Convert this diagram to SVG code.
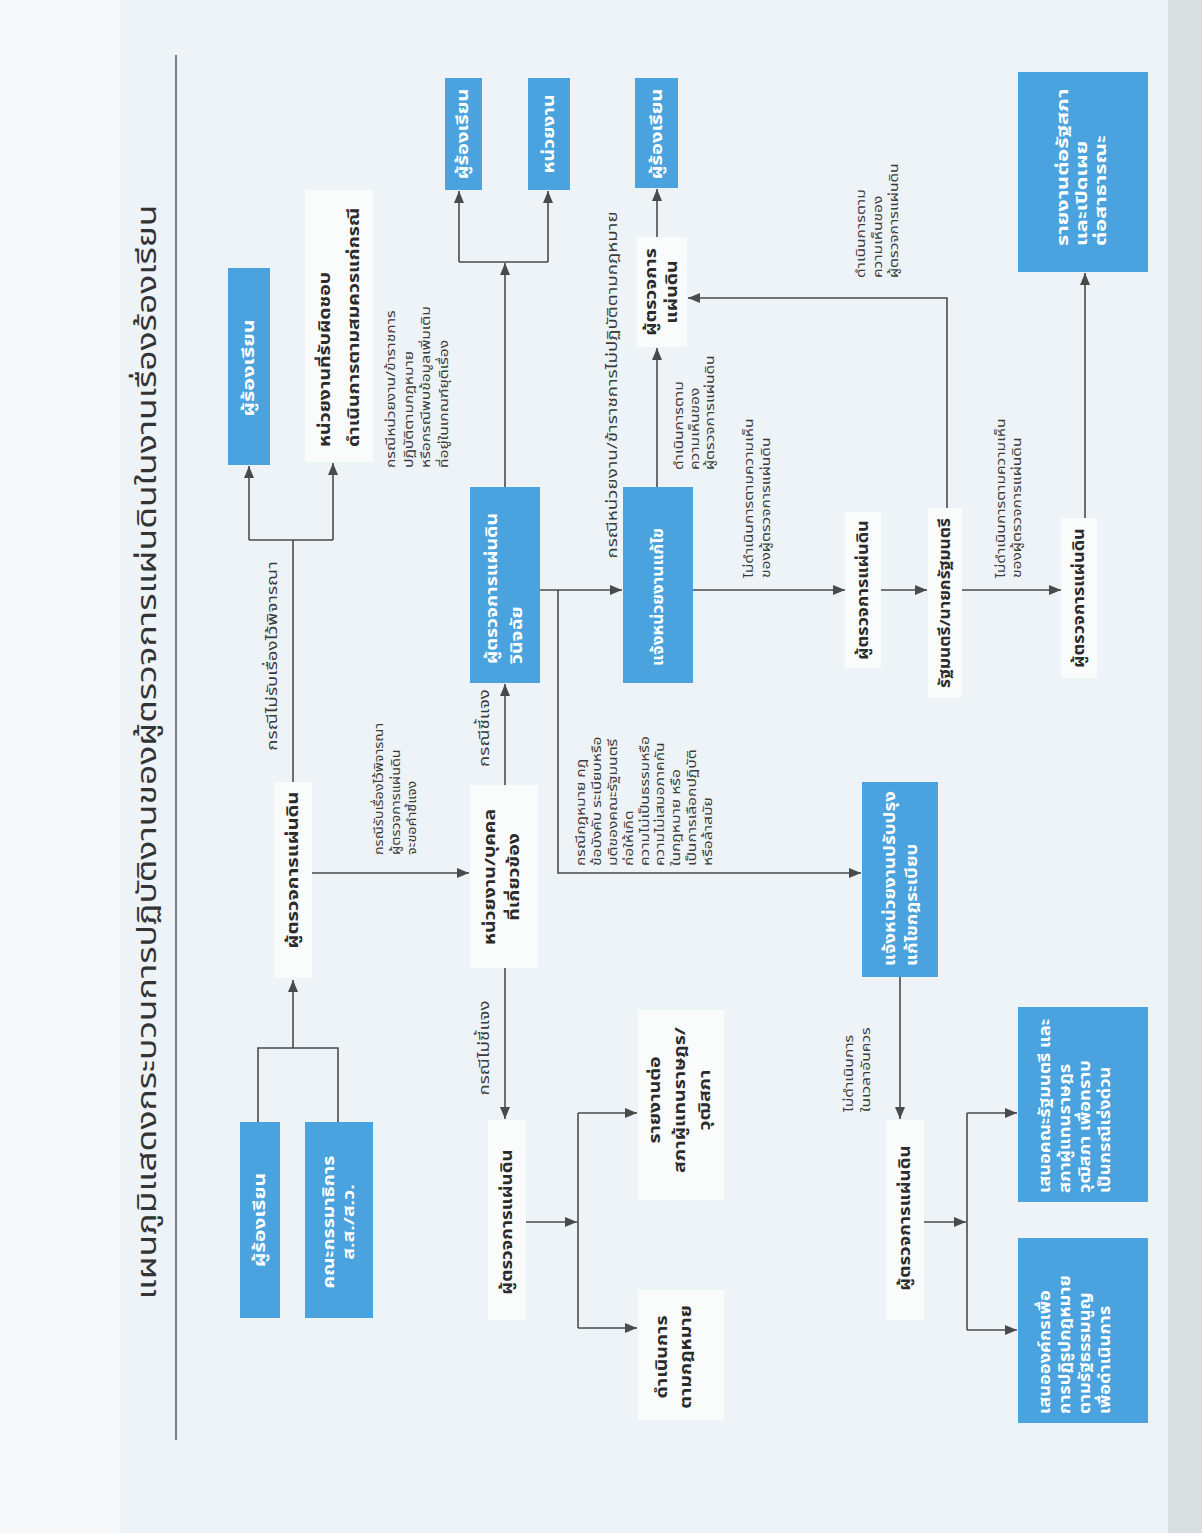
<svg xmlns="http://www.w3.org/2000/svg" width="1202" height="1533" viewBox="0 0 1202 1533">
<defs>
<style>
.bg{fill:#edf3f6}
.box{fill:#4aa3de}
.wbox{fill:#fafcfc}
.bt{font-family:'Noto Sans Thai','Noto Sans','DejaVu Sans',sans-serif;font-size:15px;font-weight:bold;fill:#ffffff;text-anchor:middle}
.nt{font-family:'Noto Sans Thai','Noto Sans','DejaVu Sans',sans-serif;font-size:15px;font-weight:bold;fill:#2b2b2b;text-anchor:middle}
.st{text-anchor:start}
.lt{font-family:'Noto Sans Thai','Noto Sans','DejaVu Sans',sans-serif;font-size:15px;fill:#3a3a3a;text-anchor:middle}
.ml{font-family:'Noto Sans Thai','Noto Sans','DejaVu Sans',sans-serif;font-size:12.5px;fill:#3a3a3a;text-anchor:start}
.title{font-family:'Noto Sans Thai','Noto Sans','DejaVu Sans',sans-serif;font-size:27px;fill:#333333;text-anchor:middle}
.c{stroke:#4a4a4a;stroke-width:1.6;fill:none}
.a{stroke:#4a4a4a;stroke-width:1.6;fill:none;marker-end:url(#ah)}
</style>
<marker id="ah" markerUnits="userSpaceOnUse" markerWidth="12" markerHeight="10" refX="12" refY="5" orient="auto">
<path d="M0,0 L12,5 L0,10 Z" fill="#4a4a4a"/>
</marker>
</defs>
<rect class="bg" x="0" y="0" width="1202" height="1533"/>
<rect x="0" y="0" width="120" height="1533" fill="#f6f8f9"/>
<rect x="1168" y="0" width="34" height="1533" fill="#d9dee0"/>

<g id="title">
<text class="title" transform="translate(156,752) rotate(-90)" textLength="1095" lengthAdjust="spacingAndGlyphs">แผนภูมิแสดงกระบวนการปฏิบัติงานของผู้ตรวจการแผ่นดินในงานเรื่องร้องเรียน</text>
<line x1="176" y1="55" x2="176" y2="1440" stroke="#555" stroke-width="1.5"/>
</g>

<g id="connectors">
<path class="c" d="M258,1122 V1048 H338 V1122"/>
<path class="a" d="M293,1048 V980"/>
<path class="c" d="M293,782 V540"/>
<path class="c" d="M249,540 H333"/>
<path class="a" d="M249,540 V466"/>
<path class="a" d="M333,540 V463"/>
<path class="a" d="M312,873 H469"/>
<path class="a" d="M505,785 V684"/>
<path class="a" d="M505,968 V1119"/>
<path class="a" d="M526,1222 H577"/>
<path class="c" d="M578,1113 V1328"/>
<path class="a" d="M578,1113 H637"/>
<path class="a" d="M578,1328 H637"/>
<path class="a" d="M505,487 V263"/>
<path class="c" d="M459,262 H548"/>
<path class="a" d="M459,262 V191"/>
<path class="a" d="M548,262 V191"/>
<path class="a" d="M540,590 H622"/>
<path class="a" d="M558,590 V873 H861"/>
<path class="a" d="M657,487 V348"/>
<path class="a" d="M657,237 V189"/>
<path class="a" d="M693,590 H845"/>
<path class="a" d="M880,590 H927"/>
<path class="a" d="M962,590 H1061"/>
<path class="a" d="M947,508 V298 H688"/>
<path class="a" d="M1085,518 V273"/>
<path class="a" d="M900,977 V1119"/>
<path class="a" d="M924,1222 H966"/>
<path class="c" d="M967,1113 V1330"/>
<path class="a" d="M967,1113 H1017"/>
<path class="a" d="M967,1330 H1017"/>
</g>

<g id="labels">
<text class="lt" transform="translate(272,656) rotate(-90) scale(1.25,1)"><tspan x="0" y="5">กรณีไม่รับเรื่องไว้พิจารณา</tspan></text>
<text class="lt" transform="translate(484,728) rotate(-90) scale(1.25,1)"><tspan x="0" y="5">กรณีชี้แจง</tspan></text>
<text class="lt" transform="translate(484,1048) rotate(-90) scale(1.25,1)"><tspan x="0" y="5">กรณีไม่ชี้แจง</tspan></text>
<text class="lt" transform="translate(612,385) rotate(-90) scale(1.25,1)"><tspan x="0" y="5">กรณีหน่วยงาน/ข้าราชการไม่ปฏิบัติตามกฎหมาย</tspan></text>
<text class="ml" transform="translate(395,855) rotate(-90) scale(1.15,1)"><tspan x="0" y="-12.5">กรณีรับเรื่องไว้พิจารณา</tspan><tspan x="0" y="4.5">ผู้ตรวจการแผ่นดิน</tspan><tspan x="0" y="21.5">จะขอคำชี้แจง</tspan></text>
<text class="ml" transform="translate(417,468) rotate(-90) scale(1.25,1)"><tspan x="0" y="-22.5">กรณีหน่วยงาน/ข้าราชการ</tspan><tspan x="0" y="-4.5">ปฏิบัติตามกฎหมาย</tspan><tspan x="0" y="13.5">หรือกรณีพบข้อมูลเพิ่มเติม</tspan><tspan x="0" y="31.5">ที่อยู่ในเกณฑ์ยุติเรื่อง</tspan></text>
<text class="ml" transform="translate(644,866) rotate(-90) scale(1.25,1)"><tspan x="0" y="-59.5">กรณีกฎหมาย กฎ</tspan><tspan x="0" y="-43.5">ข้อบังคับ ระเบียบหรือ</tspan><tspan x="0" y="-27.5">มติของคณะรัฐมนตรี</tspan><tspan x="0" y="-11.5">ก่อให้เกิด</tspan><tspan x="0" y="4.5">ความไม่เป็นธรรมหรือ</tspan><tspan x="0" y="20.5">ความไม่เสมอภาคกัน</tspan><tspan x="0" y="36.5">ในกฎหมาย หรือ</tspan><tspan x="0" y="52.5">เป็นการเลือกปฏิบัติ</tspan><tspan x="0" y="68.5">หรือล้าสมัย</tspan></text>
<text class="ml" transform="translate(694,470) rotate(-90) scale(1.25,1)"><tspan x="0" y="-11.5">ดำเนินการตาม</tspan><tspan x="0" y="4.5">ความเห็นของ</tspan><tspan x="0" y="20.5">ผู้ตรวจการแผ่นดิน</tspan></text>
<text class="ml" transform="translate(757,578) rotate(-90) scale(1.25,1)"><tspan x="0" y="-4">ไม่ดำเนินการตามความเห็น</tspan><tspan x="0" y="13">ของผู้ตรวจการแผ่นดิน</tspan></text>
<text class="ml" transform="translate(877,278) rotate(-90) scale(1.25,1)"><tspan x="0" y="-12.5">ดำเนินการตาม</tspan><tspan x="0" y="4.5">ความเห็นของ</tspan><tspan x="0" y="21.5">ผู้ตรวจการแผ่นดิน</tspan></text>
<text class="ml" transform="translate(1008,578) rotate(-90) scale(1.25,1)"><tspan x="0" y="-3.5">ไม่ดำเนินการตามความเห็น</tspan><tspan x="0" y="13.5">ของผู้ตรวจการแผ่นดิน</tspan></text>
<text class="ml" transform="translate(857,1112) rotate(-90) scale(1.25,1)"><tspan x="0" y="-4.5">ไม่ดำเนินการ</tspan><tspan x="0" y="13.5">ในเวลาอันควร</tspan></text>
</g>

<g id="n-complainant1"><rect class="box" x="240" y="1122" width="40" height="196"/><text class="bt" transform="translate(260,1220) rotate(-90) scale(1.4,1)"><tspan x="0" y="5">ผู้ร้องเรียน</tspan></text></g>
<g id="n-committee"><rect class="box" x="305" y="1122" width="68" height="196"/><text class="bt" transform="translate(338,1222) rotate(-90) scale(1.3,1)"><tspan x="0" y="-4.5">คณะกรรมาธิการ</tspan><tspan x="0" y="15.5">ส.ส./ส.ว.</tspan></text></g>
<g id="n-ombudsman1"><rect class="wbox" x="274" y="782" width="38" height="196"/><text class="nt" transform="translate(293,870) rotate(-90) scale(1.35,1)"><tspan x="0" y="5">ผู้ตรวจการแผ่นดิน</tspan></text></g>
<g id="n-complainant2"><rect class="box" x="228" y="268" width="42" height="197"/><text class="bt" transform="translate(249,368) rotate(-90) scale(1.45,1)"><tspan x="0" y="5">ผู้ร้องเรียน</tspan></text></g>
<g id="n-responsible"><rect class="wbox" x="305" y="190" width="68" height="272"/><text class="nt st" transform="translate(339,447) rotate(-90) scale(1.3,1)"><tspan x="0" y="-9">หน่วยงานที่รับผิดชอบ</tspan><tspan x="0" y="20">ดำเนินการตามสมควรแก่กรณี</tspan></text></g>
<g id="n-agency-person"><rect class="wbox" x="470" y="785" width="68" height="183"/><text class="nt" transform="translate(502,877) rotate(-90) scale(1.3,1)"><tspan x="0" y="-7.5">หน่วยงาน/บุคคล</tspan><tspan x="0" y="17.5">ที่เกี่ยวข้อง</tspan></text></g>
<g id="n-decide"><rect class="box" x="470" y="487" width="70" height="196"/><text class="bt st" transform="translate(505,664) rotate(-90) scale(1.3,1)"><tspan x="0" y="-8">ผู้ตรวจการแผ่นดิน</tspan><tspan x="0" y="17">วินิจฉัย</tspan></text></g>
<g id="n-ombudsman2"><rect class="wbox" x="488" y="1120" width="38" height="200"/><text class="nt" transform="translate(507,1222) rotate(-90) scale(1.25,1)"><tspan x="0" y="5">ผู้ตรวจการแผ่นดิน</tspan></text></g>
<g id="n-report-parliament"><rect class="wbox" x="638" y="1010" width="86" height="190"/><text class="nt" transform="translate(680,1100) rotate(-90) scale(1.3,1)"><tspan x="0" y="-20">รายงานต่อ</tspan><tspan x="0" y="5">สภาผู้แทนราษฎร/</tspan><tspan x="0" y="30">วุฒิสภา</tspan></text></g>
<g id="n-legal"><rect class="wbox" x="638" y="1290" width="86" height="130"/><text class="nt" transform="translate(674,1357) rotate(-90) scale(1.3,1)"><tspan x="0" y="-7">ดำเนินการ</tspan><tspan x="0" y="17">ตามกฎหมาย</tspan></text></g>
<g id="n-complainant3"><rect class="box" x="445" y="78" width="37" height="112"/><text class="bt" transform="translate(463,134) rotate(-90) scale(1.35,1)"><tspan x="0" y="5">ผู้ร้องเรียน</tspan></text></g>
<g id="n-agency"><rect class="box" x="528" y="78" width="42" height="112"/><text class="bt" transform="translate(549,134) rotate(-90) scale(1.3,1)"><tspan x="0" y="5">หน่วยงาน</tspan></text></g>
<g id="n-notify-fix"><rect class="box" x="623" y="487" width="70" height="196"/><text class="bt" transform="translate(658,597) rotate(-90) scale(1.15,1)"><tspan x="0" y="5">แจ้งหน่วยงานแก้ไข</tspan></text></g>
<g id="n-ombudsman3"><rect class="wbox" x="637" y="237" width="50" height="110"/><text class="nt" transform="translate(662,292) rotate(-90) scale(1.3,1)"><tspan x="0" y="-6">ผู้ตรวจการ</tspan><tspan x="0" y="15">แผ่นดิน</tspan></text></g>
<g id="n-complainant4"><rect class="box" x="635" y="78" width="43" height="110"/><text class="bt" transform="translate(657,134) rotate(-90) scale(1.35,1)"><tspan x="0" y="5">ผู้ร้องเรียน</tspan></text></g>
<g id="n-notify-rules"><rect class="box" x="862" y="782" width="76" height="195"/><text class="bt st" transform="translate(900,966) rotate(-90) scale(1.25,1)"><tspan x="0" y="-5">แจ้งหน่วยงานปรับปรุง</tspan><tspan x="0" y="17">แก้ไขกฎระเบียบ</tspan></text></g>
<g id="n-ombudsman4"><rect class="wbox" x="845" y="512" width="36" height="156"/><text class="nt" transform="translate(863,590) rotate(-90) scale(1.2,1)"><tspan x="0" y="5">ผู้ตรวจการแผ่นดิน</tspan></text></g>
<g id="n-pm"><rect class="wbox" x="928" y="508" width="34" height="190"/><text class="nt" transform="translate(945,603) rotate(-90) scale(1.15,1)"><tspan x="0" y="5">รัฐมนตรี/นายกรัฐมนตรี</tspan></text></g>
<g id="n-ombudsman5"><rect class="wbox" x="1061" y="518" width="36" height="160"/><text class="nt" transform="translate(1079,598) rotate(-90) scale(1.2,1)"><tspan x="0" y="5">ผู้ตรวจการแผ่นดิน</tspan></text></g>
<g id="n-report-public"><rect class="box" x="1018" y="72" width="130" height="200"/><text class="bt st" transform="translate(1082,246) rotate(-90) scale(1.45,1)"><tspan x="0" y="-14">รายงานต่อรัฐสภา</tspan><tspan x="0" y="5">และเปิดเผย</tspan><tspan x="0" y="24">ต่อสาธารณะ</tspan></text></g>
<g id="n-ombudsman6"><rect class="wbox" x="886" y="1120" width="38" height="200"/><text class="nt" transform="translate(905,1218) rotate(-90) scale(1.25,1)"><tspan x="0" y="5">ผู้ตรวจการแผ่นดิน</tspan></text></g>
<g id="n-cabinet"><rect class="box" x="1018" y="1007" width="130" height="195"/><text class="bt st" transform="translate(1075,1193) rotate(-90) scale(1.22,1)"><tspan x="0" y="-25">เสนอคณะรัฐมนตรี และ</tspan><tspan x="0" y="-5">สภาผู้แทนราษฎร</tspan><tspan x="0" y="15">วุฒิสภา เพื่อทราบ</tspan><tspan x="0" y="35">เป็นกรณีเร่งด่วน</tspan></text></g>
<g id="n-law-reform"><rect class="box" x="1018" y="1238" width="130" height="185"/><text class="bt st" transform="translate(1075,1414) rotate(-90) scale(1.22,1)"><tspan x="0" y="-25">เสนอองค์กรเพื่อ</tspan><tspan x="0" y="-5">การปฏิรูปกฎหมาย</tspan><tspan x="0" y="15">ตามรัฐธรรมนูญ</tspan><tspan x="0" y="35">เพื่อดำเนินการ</tspan></text></g>
</svg>
